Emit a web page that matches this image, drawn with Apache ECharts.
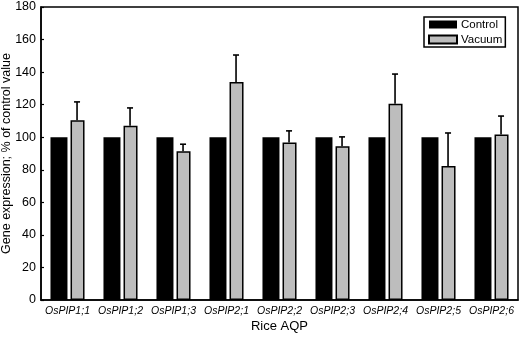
<!DOCTYPE html>
<html>
<head>
<meta charset="utf-8">
<script src="https://cdn.jsdelivr.net/npm/echarts@6/dist/echarts.min.js"></script>
<style>html,body{margin:0;padding:0;background:#fff}#c{width:520px;height:337px}</style>
</head>
<body>
<div id="c"></div>
<script>
var categories = ['OsPIP1;1','OsPIP1;2','OsPIP1;3','OsPIP2;1','OsPIP2;2','OsPIP2;3','OsPIP2;4','OsPIP2;5','OsPIP2;6'];
var controlValues = [100,100,100,100,100,100,100,100,100];
var vacuumValues = [110.5,107,91.4,134,96.7,94.5,120.5,82.3,101.7];
var vacuumErrors = [11.2,11,4.3,16.5,7.2,5.7,18.3,20.3,11.3];
var yTicks = [0,20,40,60,80,100,120,140,160,180];

var font = 'Liberation Sans, Arial, sans-serif';
var chart = echarts.init(document.getElementById('c'));
var errData = vacuumValues.map(function(v,i){return [i, v, v + vacuumErrors[i]];});
chart.setOption({
  animation:false,
  textStyle:{fontFamily:font},
  grid:{left:41,right:2,top:7,bottom:37,show:true,borderColor:'#000',borderWidth:1.5,backgroundColor:'#fff',
        containLabel:false,outerBoundsMode:'none'},
  legend:{
    left:424,top:17,orient:'vertical',itemWidth:28,itemHeight:8,itemGap:2,icon:'rect',
    padding:[1,3,1,4],borderColor:'#000',borderWidth:1.5,backgroundColor:'#fff',
    textStyle:{fontFamily:font,fontSize:11.5,lineHeight:13,color:'#000',padding:[0,0,0,-1]},
    data:['Control','Vacuum']
  },
  xAxis:{
    type:'category',data:categories,
    name:'Rice AQP',nameLocation:'middle',nameGap:20,nameMoveOverlap:false,
    nameTextStyle:{fontFamily:font,fontSize:13,color:'#000'},
    axisLine:{lineStyle:{color:'#000',width:1.5}},
    axisTick:{show:false},
    axisLabel:{fontFamily:font,fontSize:10.5,fontStyle:'italic',color:'#000',margin:6,interval:0}
  },
  yAxis:{
    type:'value',min:0,max:180,interval:20,
    name:'Gene expression; % of control value',nameLocation:'middle',nameGap:28,nameMoveOverlap:false,
    nameTextStyle:{fontFamily:font,fontSize:12.5,color:'#000'},
    axisLine:{show:true,lineStyle:{color:'#000',width:1.5}},
    axisTick:{show:true,inside:true,length:3,lineStyle:{color:'#000',width:1.2}},
    axisLabel:{fontFamily:font,fontSize:12.5,color:'#000',margin:5,
      formatter:function(v){return yTicks.indexOf(v)>=0?String(v):'';}},
    splitLine:{show:false}
  },
  series:[
    {name:'Control',type:'bar',data:controlValues,barWidth:17,barGap:'18%',
     itemStyle:{color:'#000',borderColor:'#000',borderWidth:0}},
    {name:'Vacuum',type:'bar',data:vacuumValues,barWidth:14,
     itemStyle:{color:'#bdbdbd',borderColor:'#000',borderWidth:1.5}},
    {name:'err',type:'custom',data:errData,z:1,
     renderItem:function(params,api){
       var band = api.size([1,0])[0];
       var off = band*0.18;
       var p1 = api.coord([api.value(0),api.value(1)]);
       var p2 = api.coord([api.value(0),api.value(2)]);
       var x = p1[0]+off;
       return {type:'group',children:[
         {type:'line',shape:{x1:x,y1:p1[1],x2:x,y2:p2[1]},style:{stroke:'#000',lineWidth:1.6}},
         {type:'line',shape:{x1:x-3,y1:p2[1],x2:x+3,y2:p2[1]},style:{stroke:'#000',lineWidth:1.6}}
       ]};
     }}
  ]
});
</script>
</body>
</html>
